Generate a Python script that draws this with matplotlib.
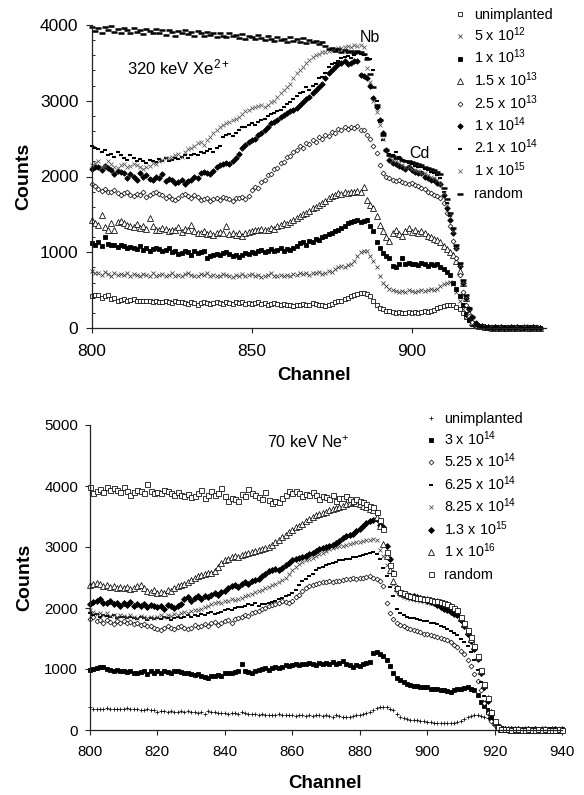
import matplotlib
matplotlib.use("Agg")
import matplotlib.pyplot as plt
from matplotlib.lines import Line2D
from matplotlib.ticker import MultipleLocator
import numpy as np

W, H = 584, 795
plt.rcParams['font.family'] = ['Liberation Sans', 'DejaVu Sans']
plt.rcParams['mathtext.fontset'] = 'custom'
plt.rcParams['mathtext.rm'] = 'Liberation Sans'
plt.rcParams['mathtext.it'] = 'Liberation Sans:italic'
plt.rcParams['mathtext.bf'] = 'Liberation Sans:bold'
plt.rcParams['mathtext.default'] = 'regular'

# ---------------- data (counts / 10), one value per channel 800..940 ----------------
UNIT = 10
channels = list(range(800, 941))

top_labels = ['unimplanted', '5 x 10$^{12}$', '1 x 10$^{13}$', '1.5 x 10$^{13}$',
              '2.5 x 10$^{13}$', '1 x 10$^{14}$', '2.1 x 10$^{14}$', '1 x 10$^{15}$', 'random']

top_unimplanted = [
    42, 44, 43, 40, 42, 43, 38, 39, 36, 37,
    38, 36, 37, 38, 36, 35, 36, 35, 35, 34,
    35, 34, 34, 35, 34, 33, 35, 34, 34, 33,
    32, 34, 33, 31, 33, 34, 33, 32, 33, 34,
    33, 32, 34, 33, 32, 34, 33, 34, 32, 33,
    32, 33, 34, 32, 33, 31, 32, 33, 32, 31,
    32, 31, 30, 29, 30, 31, 32, 30, 31, 33,
    32, 31, 30, 29, 30, 32, 34, 35, 36, 38,
    40, 42, 44, 45, 46, 46, 45, 42, 36, 30,
    27, 25, 23, 22, 21, 20, 21, 20, 20, 21,
    20, 21, 20, 21, 22, 21, 23, 24, 26, 28,
    29, 30, 31, 30, 28, 25, 20, 15, 10, 6,
    4, 3, 2, 1, 1, 1, 0, 1, 1, 0,
    1, 0, 1, 1, 0, 1, 0, 1, 0, 1,
    0]
top_5e12 = [
    75, 73, 72, 70, 74, 71, 69, 72, 70, 71,
    70, 72, 69, 71, 70, 68, 71, 70, 69, 72,
    69, 70, 71, 68, 70, 72, 69, 70, 68, 71,
    72, 70, 68, 69, 71, 70, 72, 69, 70, 68,
    69, 71, 70, 68, 67, 70, 69, 71, 68, 70,
    71, 69, 70, 67, 69, 70, 72, 68, 69, 70,
    68, 70, 69, 71, 70, 72, 71, 73, 70, 72,
    72, 74, 71, 73, 75, 74, 78, 80, 82, 81,
    83, 85, 88, 95, 100, 102, 101, 95, 88, 81,
    68, 60, 55, 52, 50, 49, 48, 49, 48, 50,
    49, 48, 49, 50, 49, 50, 51, 50, 52, 55,
    58, 60, 61, 58, 48, 35, 25, 15, 10, 6,
    4, 3, 2, 1, 1, 0, 1, 1, 0, 1,
    0, 1, 0, 1, 1, 0, 1, 0, 1, 0,
    0]
top_1e13 = [
    112, 110, 113, 108, 120, 111, 110, 109, 107, 110,
    108, 105, 107, 106, 104, 108, 103, 105, 102, 104,
    106, 104, 101, 103, 105, 100, 102, 98, 99, 101,
    100, 97, 101, 99, 100, 102, 93, 95, 96, 98,
    97, 99, 100, 98, 95, 96, 94, 97, 99, 98,
    100, 99, 101, 103, 100, 102, 104, 101, 103, 106,
    102, 104, 103, 106, 108, 112, 113, 110, 115, 114,
    118, 116, 120, 122, 124, 126, 128, 130, 132, 135,
    138, 140, 141, 142, 140, 141, 142, 135, 128, 114,
    105, 99, 95, 92, 82, 80, 84, 92, 85, 86,
    84, 85, 83, 86, 84, 82, 85, 83, 84, 80,
    78, 74, 70, 60, 52, 42, 30, 18, 10, 5,
    3, 2, 1, 1, 0, 1, 0, 1, 0, 1,
    1, 0, 1, 0, 1, 0, 1, 1, 0, 0,
    0]
top_1p5e13 = [
    142, 139, 136, 149, 133, 130, 138, 129, 140, 141,
    138, 136, 134, 133, 137, 132, 135, 131, 145, 134,
    130, 129, 132, 131, 128, 130, 129, 133, 127, 131,
    129, 136, 128, 126, 125, 128, 124, 126, 123, 125,
    127, 126, 135, 124, 125, 123, 126, 122, 125, 127,
    128, 130, 129, 131, 130, 129, 132, 131, 134, 136,
    138, 137, 140, 142, 145, 148, 150, 152, 155, 158,
    160, 163, 165, 168, 171, 174, 176, 178, 177, 179,
    178, 180, 179, 181, 180, 186, 169, 162, 158, 148,
    136, 128, 120, 115, 126, 130, 124, 122, 128, 132,
    127, 130, 125, 128, 126, 122, 120, 118, 116, 114,
    108, 104, 100, 96, 88, 75, 60, 40, 20, 8,
    5, 3, 2, 1, 1, 0, 1, 0, 1, 0,
    0, 1, 0, 1, 0, 1, 0, 0, 1, 0,
    0]
top_2p5e13 = [
    190, 187, 184, 181, 183, 180, 179, 182, 178, 176,
    178, 180, 176, 174, 177, 175, 179, 173, 176, 178,
    180, 177, 175, 172, 174, 170, 169, 172, 175, 177,
    174, 171, 176, 173, 169, 170, 172, 168, 170, 171,
    169, 173, 171, 170, 168, 172, 171, 173, 170, 174,
    182, 186, 185, 193, 195, 202, 203, 210, 211, 218,
    219, 226, 227, 233, 235, 240, 238, 244, 243, 248,
    246, 252, 250, 255, 254, 259, 258, 263, 262, 266,
    263, 266, 264, 267, 262, 261, 255, 250, 240, 231,
    215, 205, 200, 198, 196, 194, 195, 193, 192, 190,
    192, 189, 187, 185, 183, 180, 178, 176, 174, 171,
    165, 152, 135, 115, 92, 70, 48, 30, 16, 8,
    3, 2, 1, 1, 0, 1, 0, 1, 0, 0,
    1, 0, 1, 0, 0, 1, 0, 1, 0, 1,
    0]
top_1e14 = [
    210, 213, 212, 208, 214, 211, 209, 203, 207, 206,
    204, 198, 203, 200, 196, 205, 199, 202, 197, 195,
    200, 198, 203, 194, 197, 196, 192, 193, 195, 190,
    194, 196, 200, 198, 204, 206, 205, 203, 207, 212,
    215, 216, 218, 217, 220, 225, 230, 238, 242, 245,
    248, 250, 255, 258, 262, 266, 270, 272, 275, 278,
    281, 284, 286, 288, 290, 294, 298, 302, 305, 310,
    314, 318, 322, 330, 336, 340, 344, 348, 350, 352,
    348, 350, 352, 352, 334, 333, 330, 320, 303, 292,
    275, 257, 235, 222, 218, 216, 214, 212, 210, 213,
    208, 206, 205, 204, 200, 198, 196, 195, 192, 190,
    175, 158, 142, 125, 105, 82, 60, 40, 25, 14,
    7, 3, 2, 1, 1, 0, 1, 0, 1, 0,
    0, 1, 0, 1, 0, 0, 1, 0, 1, 0,
    0]
top_2p1e14 = [
    240, 238, 236, 232, 235, 228, 230, 226, 232, 229,
    225, 222, 228, 224, 220, 223, 221, 218, 222, 220,
    219, 223, 221, 224, 220, 222, 225, 223, 226, 228,
    225, 229, 230, 228, 232, 231, 234, 236, 233, 238,
    240, 252, 255, 256, 254, 258, 262, 265, 266, 268,
    270, 268, 272, 274, 276, 280, 282, 284, 286, 288,
    292, 296, 298, 302, 306, 310, 312, 318, 314, 320,
    322, 330, 332, 336, 345, 348, 350, 352, 356, 358,
    359, 357, 360, 363, 362, 360, 356, 355, 340, 300,
    272, 248, 235, 230, 228, 232, 226, 222, 220, 218,
    216, 214, 213, 212, 210, 208, 206, 205, 202, 198,
    180, 165, 148, 130, 108, 85, 62, 42, 26, 15,
    4, 2, 1, 1, 0, 1, 0, 1, 0, 1,
    0, 1, 0, 0, 1, 0, 1, 0, 1, 0,
    0]
top_1e15 = [
    215, 218, 221, 212, 214, 220, 216, 213, 211, 215,
    217, 212, 214, 216, 215, 213, 210, 212, 214, 218,
    216, 220, 222, 225, 224, 226, 228, 230, 226, 232,
    236, 238, 240, 244, 246, 242, 248, 252, 258, 262,
    265, 268, 270, 272, 275, 276, 278, 282, 286, 288,
    290, 292, 293, 294, 292, 295, 298, 300, 305, 310,
    314, 318, 322, 330, 336, 340, 344, 350, 354, 358,
    360, 362, 364, 365, 366, 367, 368, 369, 370, 371,
    372, 371, 373, 372, 374, 371, 343, 325, 300, 285,
    268, 250, 235, 226, 222, 220, 218, 215, 213, 212,
    210, 209, 207, 205, 204, 202, 200, 198, 195, 190,
    178, 162, 146, 128, 106, 83, 61, 41, 25, 14,
    4, 3, 1, 1, 0, 1, 0, 0, 1, 0,
    1, 0, 0, 1, 0, 1, 0, 1, 0, 0,
    0]
top_random = [
    398, 392, 396, 390, 397, 394, 399, 391, 395, 389,
    396, 393, 390, 396, 391, 394, 388, 395, 392, 389,
    395, 390, 393, 387, 394, 391, 386, 392, 389, 393,
    388, 391, 386, 392, 390, 385, 391, 387, 389, 384,
    390, 386, 384, 389, 385, 387, 383, 388, 382, 386,
    384, 381, 387, 383, 380, 385, 382, 379, 384, 380,
    382, 378, 384, 379, 381, 377, 383, 376, 380, 378,
    379, 375, 377, 372, 368, 370, 366, 368, 365, 367,
    365, 366, 363, 366, 364, 362, 355, 335, 318, 295,
    275, 255, 235, 229, 227, 225, 224, 222, 221, 220,
    219, 218, 216, 215, 213, 211, 210, 208, 206, 203,
    185, 170, 152, 132, 110, 86, 63, 43, 27, 15,
    4, 2, 1, 1, 0, 0, 1, 0, 0, 1,
    0, 1, 0, 0, 1, 0, 0, 1, 0, 0,
    0]

bot_labels = ['unimplanted', '3 x 10$^{14}$', '5.25 x 10$^{14}$', '6.25 x 10$^{14}$',
              '8.25 x 10$^{14}$', '1.3 x 10$^{15}$', '1 x 10$^{16}$', 'random']

bot_unimplanted = [
    38, 35, 35, 34, 35, 36, 34, 35, 34, 35,
    35, 36, 34, 35, 34, 33, 33, 34, 33, 32,
    30, 31, 31, 30, 31, 29, 30, 31, 30, 31,
    30, 29, 28, 29, 27, 31, 30, 29, 28, 28,
    28, 27, 28, 28, 27, 29, 28, 27, 26, 27,
    25, 26, 24, 25, 24, 25, 26, 24, 25, 24,
    24, 23, 25, 24, 23, 24, 23, 24, 25, 23,
    24, 23, 22, 24, 23, 22, 21, 22, 23, 24,
    25, 26, 28, 30, 33, 36, 37, 37, 37, 35,
    32, 27, 22, 19, 18, 17, 16, 16, 15, 14,
    13, 13, 12, 11, 12, 11, 11, 12, 12, 13,
    15, 18, 21, 23, 24, 24, 23, 22, 20, 16,
    10, 5, 2, 1, 1, 0, 1, 0, 0, 1,
    0, 1, 0, 0, 1, 0, 1, 0, 0, 1,
    0]
bot_3e14 = [
    99, 100, 102, 103, 104, 100, 98, 97, 99, 96,
    97, 95, 96, 93, 94, 95, 97, 92, 96, 94,
    97, 93, 96, 95, 94, 96, 97, 95, 93, 94,
    92, 90, 91, 88, 87, 86, 89, 88, 90, 89,
    93, 94, 93, 95, 96, 108, 97, 95, 93, 96,
    98, 100, 101, 99, 102, 104, 101, 103, 106, 105,
    107, 108, 106, 109, 108, 110, 108, 107, 110, 109,
    110, 108, 112, 109, 110, 113, 108, 106, 104, 106,
    105, 108, 110, 112, 126, 128, 125, 122, 115, 105,
    94, 86, 82, 79, 76, 74, 72, 72, 70, 71,
    70, 68, 67, 67, 66, 65, 64, 63, 66, 68,
    68, 69, 70, 68, 65, 58, 46, 40, 30, 20,
    12, 6, 3, 2, 1, 1, 0, 1, 0, 1,
    0, 1, 0, 1, 0, 0, 1, 1, 0, 0,
    1]
bot_5p25e14 = [
    182, 186, 178, 180, 176, 181, 177, 174, 179, 176,
    178, 175, 177, 173, 176, 172, 174, 171, 170, 168,
    166, 164, 168, 170, 167, 165, 169, 171, 168, 166,
    168, 172, 169, 171, 174, 170, 175, 177, 172, 176,
    178, 180, 176, 182, 184, 186, 189, 187, 191, 193,
    195, 198, 200, 203, 205, 207, 209, 211, 210, 208,
    212, 218, 222, 228, 232, 236, 238, 240, 241, 242,
    242, 244, 243, 245, 244, 246, 247, 248, 249, 248,
    250, 249, 251, 252, 250, 248, 245, 236, 209, 192,
    182, 176, 172, 170, 168, 166, 164, 162, 160, 158,
    157, 155, 154, 153, 151, 150, 147, 144, 140, 136,
    130, 124, 115, 105, 92, 80, 65, 45, 28, 15,
    8, 4, 2, 1, 1, 0, 1, 0, 1, 0,
    0, 1, 0, 0, 1, 0, 0, 1, 0, 1,
    0]
bot_6p25e14 = [
    192, 188, 190, 186, 189, 187, 185, 188, 184, 186,
    185, 183, 186, 184, 182, 185, 183, 181, 184, 182,
    184, 182, 185, 183, 181, 184, 186, 183, 185, 188,
    186, 189, 187, 190, 188, 191, 193, 190, 192, 194,
    196, 198, 197, 200, 202, 201, 204, 206, 205, 208,
    204, 206, 207, 209, 210, 212, 214, 217, 219, 221,
    224, 230, 238, 245, 248, 252, 256, 262, 266, 268,
    270, 272, 274, 276, 278, 279, 280, 281, 283, 284,
    285, 287, 288, 290, 292, 288, 280, 265, 252, 235,
    219, 198, 192, 188, 186, 184, 183, 182, 180, 179,
    178, 176, 175, 173, 171, 169, 166, 163, 159, 155,
    150, 145, 138, 128, 115, 98, 78, 55, 35, 18,
    8, 4, 2, 1, 1, 0, 1, 0, 0, 1,
    1, 0, 0, 1, 0, 1, 0, 0, 1, 0,
    0]
bot_8p25e14 = [
    196, 194, 190, 192, 188, 191, 187, 189, 186, 188,
    187, 185, 188, 186, 184, 187, 185, 183, 186, 184,
    186, 188, 185, 189, 187, 190, 188, 191, 193, 192,
    195, 197, 196, 199, 201, 204, 206, 208, 210, 209,
    212, 211, 214, 213, 215, 217, 219, 221, 223, 226,
    228, 230, 233, 235, 238, 240, 243, 246, 250, 256,
    262, 268, 272, 276, 278, 280, 282, 285, 288, 290,
    293, 296, 298, 300, 301, 302, 303, 305, 306, 308,
    309, 310, 311, 312, 313, 312, 295, 285, 270, 259,
    240, 228, 222, 218, 216, 215, 214, 213, 212, 211,
    210, 209, 208, 207, 206, 205, 203, 200, 197, 193,
    182, 172, 160, 148, 135, 118, 95, 72, 50, 28,
    12, 5, 2, 1, 1, 0, 0, 1, 0, 1,
    0, 1, 0, 1, 0, 0, 1, 0, 1, 0,
    1]
bot_1p3e15 = [
    207, 210, 212, 214, 209, 208, 211, 206, 209, 204,
    208, 205, 210, 203, 207, 204, 206, 202, 205, 203,
    201, 204, 199, 205, 203, 200, 204, 206, 214, 218,
    212, 216, 219, 215, 220, 218, 221, 224, 222, 226,
    228, 232, 236, 238, 235, 240, 242, 239, 244, 246,
    248, 252, 256, 260, 262, 264, 263, 266, 270, 274,
    278, 280, 282, 284, 286, 288, 290, 293, 296, 298,
    300, 302, 304, 306, 310, 314, 318, 320, 322, 326,
    330, 334, 340, 342, 345, 346, 336, 332, 301, 280,
    258, 232, 225, 223, 222, 220, 219, 218, 216, 215,
    212, 210, 208, 205, 202, 199, 196, 193, 190, 188,
    180, 170, 158, 146, 132, 116, 93, 70, 48, 27,
    11, 4, 2, 1, 0, 1, 0, 1, 0, 0,
    1, 0, 1, 0, 0, 1, 0, 0, 1, 0,
    0]
bot_1e16 = [
    237, 239, 241, 240, 236, 238, 234, 236, 233, 235,
    232, 234, 231, 233, 236, 238, 232, 228, 226, 229,
    225, 227, 224, 230, 228, 233, 236, 238, 240, 243,
    246, 250, 252, 254, 255, 258, 257, 260, 268, 274,
    278, 280, 283, 285, 284, 287, 288, 290, 292, 294,
    295, 296, 298, 300, 304, 308, 312, 316, 320, 324,
    328, 332, 335, 338, 342, 346, 350, 352, 354, 356,
    358, 360, 362, 364, 366, 368, 370, 372, 373, 372,
    371, 368, 365, 362, 360, 350, 335, 305, 285, 262,
    245, 232, 226, 223, 221, 220, 218, 217, 216, 215,
    214, 213, 212, 211, 210, 208, 206, 204, 200, 196,
    184, 174, 162, 150, 137, 120, 97, 74, 52, 30,
    13, 5, 2, 1, 1, 0, 1, 0, 0, 1,
    0, 0, 1, 0, 1, 0, 0, 1, 0, 0,
    1]
bot_random = [
    398, 388, 392, 395, 390, 399, 393, 396, 394, 390,
    398, 392, 386, 390, 394, 391, 388, 403, 392, 388,
    390, 389, 393, 391, 388, 386, 390, 385, 383, 387,
    382, 384, 388, 394, 380, 385, 392, 386, 388, 396,
    384, 376, 381, 379, 375, 387, 384, 395, 389, 386,
    382, 379, 390, 377, 372, 375, 373, 380, 386, 392,
    389, 391, 388, 384, 387, 386, 390, 385, 379, 384,
    382, 378, 385, 376, 381, 380, 383, 379, 376, 378,
    376, 374, 371, 368, 365, 358, 345, 330, 292, 270,
    258, 232, 226, 224, 222, 220, 218, 217, 216, 215,
    214, 213, 212, 211, 210, 208, 206, 204, 200, 196,
    186, 176, 164, 152, 138, 121, 98, 75, 53, 30,
    14, 5, 2, 1, 1, 0, 1, 1, 0, 0,
    1, 0, 0, 1, 0, 1, 0, 0, 0, 1,
    0]

top_series = [top_unimplanted, top_5e12, top_1e13, top_1p5e13, top_2p5e13,
              top_1e14, top_2p1e14, top_1e15, top_random]
bot_series = [bot_unimplanted, bot_3e14, bot_5p25e14, bot_6p25e14, bot_8p25e14,
              bot_1p3e15, bot_1e16, bot_random]

# ---------------- styles ----------------
def sty(marker, ms, filled, mew=0.6, color='black'):
    return dict(marker=marker, ms=ms, mfc=(color if filled else 'white'),
                mec=color, mew=mew, linestyle='none')

top_styles = [
    sty('s', 2.8, False, 0.55),
    sty('x', 2.2, False, 0.55, '#333333'),
    sty('s', 3.4, True),
    sty('^', 4.0, False, 0.55),
    sty('D', 2.5, False, 0.5),
    sty('D', 2.8, True),
    sty('_', 3.2, True, 1.5),
    sty('x', 2.8, False, 0.55, '#555555'),
    sty('_', 4.0, True, 1.8),
]
bot_styles = [
    sty('+', 3.4, False, 0.55),
    sty('s', 3.5, True),
    sty('D', 2.5, False, 0.5),
    sty('_', 3.4, True, 1.4),
    sty('x', 2.8, False, 0.55, '#444444'),
    sty('D', 3.0, True),
    sty('^', 4.0, False, 0.55),
    sty('s', 3.6, False, 0.55),
]

fig = plt.figure(figsize=(W / 100, H / 100), dpi=100)
fig.patch.set_facecolor('white')

def px_axes(left, top, right, bottom):
    return fig.add_axes([left / W, 1 - bottom / H, (right - left) / W, (bottom - top) / H])

def style_axes(ax):
    for s in ['top', 'right']:
        ax.spines[s].set_visible(False)
    for s in ['left', 'bottom']:
        ax.spines[s].set_linewidth(0.9)
        ax.spines[s].set_color('#222222')
    ax.set_facecolor('white')

# ---------------- top panel ----------------
ax1 = px_axes(92, 25, 546, 328)
style_axes(ax1)
for vals, st in zip(top_series, top_styles):
    ax1.plot(channels, np.array(vals) * UNIT, clip_on=False, **st)
ax1.set_xlim(800, 942)
ax1.set_ylim(0, 4000)
ax1.set_xticks([800, 850, 900])
ax1.yaxis.set_major_locator(MultipleLocator(1000))
ax1.yaxis.set_minor_locator(MultipleLocator(200))
ax1.tick_params(axis='y', which='major', direction='out', length=4.3, width=0.8,
                labelsize=12.5, pad=5.5, color='#222222')
ax1.tick_params(axis='y', which='minor', direction='in', length=2.2, width=0.7, color='#222222')
ax1.tick_params(axis='x', which='major', direction='out', length=3.6, width=0.8,
                labelsize=12.5, pad=8, color='#222222')
ax1.set_ylabel('Counts', fontsize=14, fontweight='bold', va='center')
ax1.yaxis.set_label_coords((24 - 92) / 454, 0.5)
ax1.set_xlabel('Channel', fontsize=13.5, fontweight='bold', va='center')
ax1.xaxis.set_label_coords((314 - 92) / 454, -(376 - 328) / 303)
fig.text(127 / W, 1 - 74 / H, '320 keV Xe$^{2+}$', fontsize=12, va='baseline')
fig.text(360 / W, 1 - 42 / H, 'Nb', fontsize=11.5, va='baseline')
fig.text(409 / W, 1 - 158 / H, 'Cd', fontsize=11.5, va='baseline')

# ---------------- bottom panel ----------------
ax2 = px_axes(90, 425, 562, 730)
style_axes(ax2)
for vals, st in zip(bot_series, bot_styles):
    ax2.plot(channels, np.array(vals) * UNIT, clip_on=False, **st)
ax2.set_xlim(800, 940)
ax2.set_ylim(0, 5000)
ax2.xaxis.set_major_locator(MultipleLocator(20))
ax2.yaxis.set_major_locator(MultipleLocator(1000))
ax2.tick_params(axis='y', direction='out', length=3.6, width=0.8, labelsize=10.8,
                pad=5, color='#222222')
ax2.tick_params(axis='x', direction='out', length=3.6, width=0.8, labelsize=10.8,
                pad=7, color='#222222')
ax2.set_ylabel('Counts', fontsize=14, fontweight='bold', va='center')
ax2.yaxis.set_label_coords((25 - 90) / 472, 0.5)
ax2.set_xlabel('Channel', fontsize=13.5, fontweight='bold', va='center')
ax2.xaxis.set_label_coords((325 - 90) / 472, -(783 - 730) / 305)
fig.text(267 / W, 1 - 448 / H, '70 keV Ne$^{+}$', fontsize=11.5, va='baseline')

# ---------------- legends (manual, evenly spaced rows) ----------------
def legend(labels, styles, mx, tx, y0, dy, fs):
    for i, (lab, st) in enumerate(zip(labels, styles)):
        yc = y0 + i * dy
        ln = Line2D([mx / W], [1 - yc / H], transform=fig.transFigure, **st)
        fig.add_artist(ln)
        fig.text(tx / W, 1 - (yc + 5) / H, lab, fontsize=fs, va='baseline')

legend(top_labels, top_styles, 460, 474, 13.5, 22.5, 10.4)
legend(bot_labels, bot_styles, 431, 444, 417.5, 22.4, 10.4)

fig.savefig('out.png', dpi=100, facecolor='white')
